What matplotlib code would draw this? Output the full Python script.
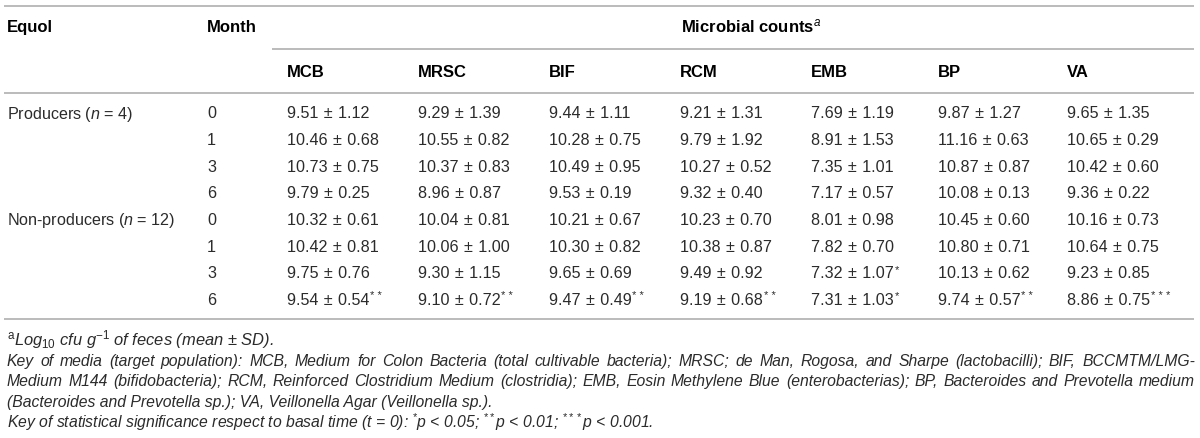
import matplotlib
matplotlib.use("Agg")
import matplotlib.pyplot as plt

plt.rcParams['font.family'] = ['Liberation Sans', 'DejaVu Sans']
plt.rcParams['mathtext.fontset'] = 'custom'
plt.rcParams['mathtext.rm'] = 'Liberation Sans'
plt.rcParams['mathtext.it'] = 'Liberation Sans:italic'
plt.rcParams['mathtext.bf'] = 'Liberation Sans:bold'

# datos de la tabla
media = ['MCB', 'MRSC', 'BIF', 'RCM', 'EMB', 'BP', 'VA']
months = ['0', '1', '3', '6']
groups = [r'Producers ($n$ = 4)', r'Non-producers ($n$ = 12)']

prod_mean = [
    [9.51, 10.46, 10.73, 9.79],
    [9.29, 10.55, 10.37, 8.96],
    [9.44, 10.28, 10.49, 9.53],
    [9.21, 9.79, 10.27, 9.32],
    [7.69, 8.91, 7.35, 7.17],
    [9.87, 11.16, 10.87, 10.08],
    [9.65, 10.65, 10.42, 9.36],
]
prod_sd = [
    [1.12, 0.68, 0.75, 0.25],
    [1.39, 0.82, 0.83, 0.87],
    [1.11, 0.75, 0.95, 0.19],
    [1.31, 1.92, 0.52, 0.40],
    [1.19, 1.53, 1.01, 0.57],
    [1.27, 0.63, 0.87, 0.13],
    [1.35, 0.29, 0.60, 0.22],
]
nonprod_mean = [
    [10.32, 10.42, 9.75, 9.54],
    [10.04, 10.06, 9.30, 9.10],
    [10.21, 10.30, 9.65, 9.47],
    [10.23, 10.38, 9.49, 9.19],
    [8.01, 7.82, 7.32, 7.31],
    [10.45, 10.80, 10.13, 9.74],
    [10.16, 10.64, 9.23, 8.86],
]
nonprod_sd = [
    [0.61, 0.81, 0.76, 0.54],
    [0.81, 1.00, 1.15, 0.72],
    [0.67, 0.82, 0.69, 0.49],
    [0.70, 0.87, 0.92, 0.68],
    [0.98, 0.70, 1.07, 1.03],
    [0.60, 0.71, 0.62, 0.57],
    [0.73, 0.75, 0.85, 0.75],
]
nonprod_sig = [
    ['', '', '', '**'],
    ['', '', '', '**'],
    ['', '', '', '**'],
    ['', '', '', '**'],
    ['', '', '*', '*'],
    ['', '', '', '**'],
    ['', '', '', '***'],
]
prod_sig = [['', '', '', ''] for _ in media]

footnotes = [
    r'$^{\rm a}$$\it{Log}_{\rm 10}$ cfu g$^{-1}$ of feces (mean ± SD).',
    'Key of media (target population): MCB, Medium for Colon Bacteria (total cultivable bacteria); MRSC; de Man, Rogosa, and Sharpe (lactobacilli); BIF, BCCMTM/LMG-',
    'Medium M144 (bifidobacteria); RCM, Reinforced Clostridium Medium (clostridia); EMB, Eosin Methylene Blue (enterobacterias); BP, Bacteroides and Prevotella medium',
    '(Bacteroides and Prevotella sp.); VA, Veillonella Agar (Veillonella sp.).',
    r'Key of statistical significance respect to basal time (t = 0): $^{*}$p < 0.05; $^{**}$p < 0.01; $^{***}$p < 0.001.',
]
justified = [False, True, True, False, False]

fig = plt.figure(figsize=(12, 4.38), dpi=100)
ax = fig.add_axes([0, 0, 1, 1])
ax.set_xlim(0, 1200)
ax.set_ylim(438, 0)
ax.axis('off')

line_c = '#b5b5b5'
txt_c = '#2b2b2b'
fs = 11.6
hfs = 12

# lineas horizontales
ax.hlines([6, 93, 319], 4, 1194, color=line_c, lw=1.3)
ax.hlines(49, 272, 1194, color=line_c, lw=1.3)

# cabecera (baseline = centro + ~5 px)
ax.text(7, 32, 'Equol', fontsize=hfs, fontweight='bold', va='baseline')
ax.text(207, 32, 'Month', fontsize=hfs, fontweight='bold', va='baseline')
ax.text(681, 32, r'Microbial counts$^{\it{a}}$', fontsize=hfs, fontweight='bold', va='baseline')
col_x = [287, 418, 549, 680, 811, 938, 1067]
for x, m in zip(col_x, media):
    ax.text(x, 77, m, fontsize=hfs, fontweight='bold', va='baseline')

# filas
row_y0 = 113
row_h = 26.6
sp = '\u2004'  # espacio algo mas ancho alrededor de ±
blocks = [(prod_mean, prod_sd, prod_sig), (nonprod_mean, nonprod_sd, nonprod_sig)]
for g, (name, (mean, sd, sig)) in enumerate(zip(groups, blocks)):
    for i, mo in enumerate(months):
        y = row_y0 + (g * 4 + i) * row_h + 5.5
        if i == 0:
            ax.text(7, y, name, fontsize=fs, color=txt_c, va='baseline')
        ax.text(207, y, mo, fontsize=fs, color=txt_c, va='baseline')
        for j, x in enumerate(col_x):
            s = f'{mean[j][i]:.2f}{sp}±{sp}{sd[j][i]:.2f}'
            t = ax.text(x, y, s, fontsize=fs, color=txt_c, va='baseline')
            if sig[j][i]:
                # asteriscos pegados al final del valor
                ax.annotate(' '.join(sig[j][i]), xy=(1, 1), xycoords=t, xytext=(0.5, 1),
                            textcoords='offset points', fontsize=8,
                            color=txt_c, ha='left', va='top')

# notas al pie
ffs = 11.3
renderer = fig.canvas.get_renderer()
x0, x1 = 7, 1195
for k, (t, just) in enumerate(zip(footnotes, justified)):
    y = 340 + k * 20.7 + 5
    size = ffs + 0.6 if k == 0 else ffs
    if not just:
        ax.text(x0, y, t, fontsize=size, style='italic', color=txt_c, va='baseline')
        continue
    words = t.split(' ')
    arts = [ax.text(0, y, w, fontsize=size, style='italic', color=txt_c, va='baseline') for w in words]
    widths = [a.get_window_extent(renderer).width for a in arts]
    gap = (x1 - x0 - sum(widths)) / (len(words) - 1)
    x = x0
    for a, w in zip(arts, widths):
        a.set_x(x)
        x += w + gap

fig.savefig('out.png', dpi=100)
